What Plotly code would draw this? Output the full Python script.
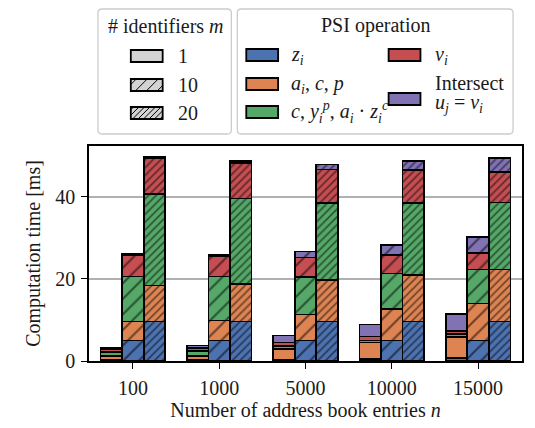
import plotly.graph_objects as go

# ---------------- data ----------------
categories = ["100", "1000", "5000", "10000", "15000"]
identifiers = ["1", "10", "20"]
operations = ["z_i", "a_i,c,p", "c,y_i^p,a_i*z_i^c", "v_i", "Intersect"]

# m = 1
z_m1 = [0.4, 0.4, 0.4, 0.5, 0.8]
a_m1 = [0.8, 0.9, 2.6, 4.0, 5.0]
g_m1 = [1.0, 1.1, 0.7, 0.5, 0.7]
v_m1 = [0.6, 0.8, 0.8, 1.0, 0.8]
u_m1 = [0.4, 0.6, 1.7, 2.9, 4.2]
# m = 10
z_m10 = [5.0, 5.0, 5.0, 5.0, 5.0]
a_m10 = [4.6, 4.9, 6.3, 7.7, 9.0]
g_m10 = [11.0, 10.7, 9.2, 8.6, 8.3]
v_m10 = [5.3, 4.9, 4.7, 4.5, 4.1]
u_m10 = [0.2, 0.4, 1.5, 2.4, 3.8]
# m = 20
z_m20 = [9.6, 9.6, 9.6, 9.6, 9.6]
a_m20 = [8.8, 9.1, 10.1, 11.3, 12.7]
g_m20 = [22.3, 20.9, 18.8, 17.6, 16.3]
v_m20 = [8.7, 8.7, 8.2, 8.0, 7.4]
u_m20 = [0.3, 0.5, 1.2, 2.2, 3.4]

y_ticks = [0, 20, 40]

series = {
    "1": [z_m1, a_m1, g_m1, v_m1, u_m1],
    "10": [z_m10, a_m10, g_m10, v_m10, u_m10],
    "20": [z_m20, a_m20, g_m20, v_m20, u_m20],
}

# ---------------- style ----------------
colors = ["#4C72B0", "#DD8452", "#55A868", "#C44E52", "#8172B3"]
hatch = {"1": None, "10": 11, "20": 5.5}
solid = {"1": 0, "10": 0.2, "20": 0.3}
offsets = {"1": -0.25, "10": 0.0, "20": 0.25}
FONT = "Liberation Serif, Times New Roman, serif"
FS = 20

W, H = 535, 428
PX0, PX1, PY0, PY1 = 89, 524, 146, 361  # plot area in pixels


def px(x):
    return (x - PX0) / (PX1 - PX0)


def py(y):
    return (PY1 - y) / (PY1 - PY0)


fig = go.Figure()
for m in identifiers:
    xs = [i + offsets[m] for i in range(len(categories))]
    for k, op in enumerate(operations):
        marker = dict(color=colors[k], line=dict(color="black", width=1.7))
        if hatch[m]:
            marker["pattern"] = dict(shape="/", size=hatch[m], solidity=solid[m],
                                     fgcolor="black", fillmode="overlay")
        fig.add_trace(go.Bar(x=xs, y=series[m][k], width=0.25, marker=marker,
                             name=f"{op} m={m}", showlegend=False))

fig.update_layout(
    barmode="stack",
    width=W, height=H,
    margin=dict(l=PX0, r=W - PX1, t=PY0, b=H - PY1, pad=0),
    plot_bgcolor="white", paper_bgcolor="white",
    font=dict(family=FONT, size=FS, color="#1a1a1a"),
)
fig.update_xaxes(
    range=[-0.51, 4.51], tickvals=list(range(len(categories))), ticktext=categories,
    showgrid=False, zeroline=False, showline=True, linecolor="black", linewidth=1.5,
    mirror=True, ticks="outside", ticklen=6, tickwidth=1.3, tickcolor="black",
    tickfont=dict(size=FS), ticklabelstandoff=2,
    title=dict(text="Number of address book entries <i>n</i>", font=dict(size=FS), standoff=2),
)
fig.update_yaxes(
    range=[0, 52.4], tickvals=y_ticks, showgrid=True, gridcolor="#b0b0b0", gridwidth=1.5,
    zeroline=False, showline=True, linecolor="black", linewidth=1.5, mirror=True,
    ticks="outside", ticklen=6, tickwidth=1.3, tickcolor="black",
    tickfont=dict(size=FS), ticklabelstandoff=2,
    title=dict(text="Computation time [ms]", font=dict(size=FS), standoff=9),
)

shapes = []
annots = []


def rounded_box(x0, y0, x1, y1, r=4):
    rx = r / (PX1 - PX0)
    ry = r / (PY1 - PY0)
    X0, X1, Y0, Y1 = px(x0), px(x1), py(y0), py(y1)  # Y0 top (larger)
    path = (f"M{X0+rx},{Y0} L{X1-rx},{Y0} Q{X1},{Y0} {X1},{Y0-ry} "
            f"L{X1},{Y1+ry} Q{X1},{Y1} {X1-rx},{Y1} L{X0+rx},{Y1} "
            f"Q{X0},{Y1} {X0},{Y1+ry} L{X0},{Y0-ry} Q{X0},{Y0} {X0+rx},{Y0} Z")
    shapes.append(dict(type="path", path=path, xref="paper", yref="paper",
                       line=dict(color="#cccccc", width=1.3), fillcolor="white"))


def swatch(x0, yc, color, spacing=None, w=32, h=12):
    y0, y1 = yc - h / 2, yc + h / 2
    shapes.append(dict(type="rect", xref="paper", yref="paper",
                       x0=px(x0), x1=px(x0 + w), y0=py(y1), y1=py(y0),
                       fillcolor=color, line=dict(color="black", width=1.8)))
    if spacing:
        c = x0 - h + spacing / 2
        while c < x0 + w:
            sx, sy = c, y1
            ex, ey = c + h, y0
            if sx < x0:
                sy = y1 - (x0 - c)
                sx = x0
            if ex > x0 + w:
                ey = y1 - (x0 + w - c)
                ex = x0 + w
            if ex > sx:
                shapes.append(dict(type="line", xref="paper", yref="paper",
                                   x0=px(sx), y0=py(sy), x1=px(ex), y1=py(ey),
                                   line=dict(color="black", width=1)))
            c += spacing


def text(x, y, s, anchor="left", size=FS):
    annots.append(dict(x=px(x), y=py(y), xref="paper", yref="paper", text=s,
                       showarrow=False, xanchor=anchor, yanchor="middle",
                       font=dict(family=FONT, size=size, color="#1a1a1a")))


# legend 1: identifiers
rounded_box(98, 9, 232, 134)
text(166, 26, "# identifiers <i>m</i>", anchor="center")
rows1 = [56, 85, 113]
for m, yc in zip(identifiers, rows1):
    swatch(131, yc, "#d3d3d3", hatch[m])
    text(176, yc, m)

# legend 2: PSI operations
rounded_box(238, 9, 515, 134)
text(377, 26, "PSI operation", anchor="center")
labels = [
    "<i>z<sub>i</sub></i>",
    "<i>a<sub>i</sub></i>, <i>c</i>, <i>p</i>",
    "<i>c</i>, <i>y</i><sub><i>i</i></sub><sup><i>p</i></sup>, <i>a<sub>i</sub></i> · <i>z</i><sub><i>i</i></sub><sup><i>c</i></sup>",
    "<i>v<sub>i</sub></i>",
]
col1 = [(247, 55), (247, 84), (247, 112)]
for k, (x0, yc) in enumerate(col1):
    swatch(x0, yc, colors[k])
    text(290, yc, labels[k])
swatch(390, 55, colors[3])
text(435, 55, labels[3])
swatch(390, 99, colors[4])
text(435, 83, "Intersect")
text(435, 104, "<i>u<sub>j</sub></i> = <i>v<sub>i</sub></i>")

fig.update_layout(shapes=shapes, annotations=annots)
fig.write_html("out.html", config={"displayModeBar": False},
               post_script="document.body.style.margin='0';")
